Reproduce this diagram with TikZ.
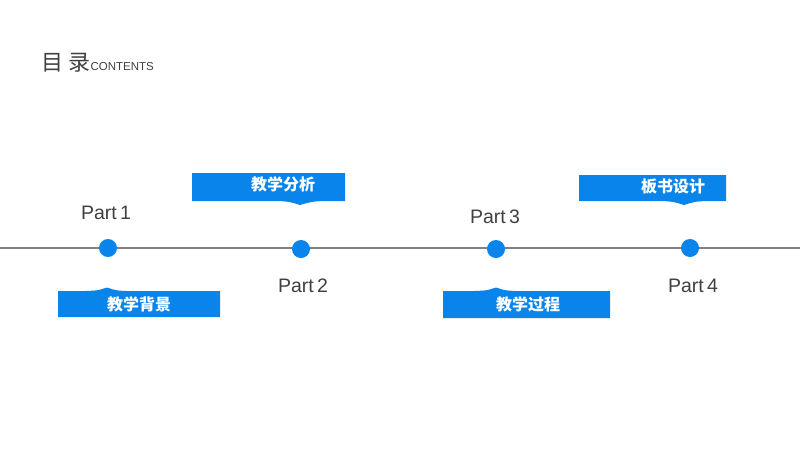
\documentclass[tikz,border=0pt]{standalone}
\usepackage{fontspec}
\setmainfont{Liberation Sans}
\newfontfamily\cjk{Noto Sans CJK SC}
\definecolor{tlblue}{RGB}{8,132,234}
\definecolor{tlgray}{RGB}{128,128,128}
\definecolor{txtgray}{RGB}{64,64,64}
\begin{document}
\begin{tikzpicture}[x=1pt,y=-1pt,
  dot/.style={circle,fill=tlblue,inner sep=0pt,minimum size=18pt},
  partlbl/.style={font=\fontsize{19.5}{19.5}\selectfont,text=txtgray,inner sep=0pt},
  boxlbl/.style={font=\cjk\bfseries\fontsize{16}{16}\selectfont,text=white,inner sep=0pt},
  boxfill/.style={fill=tlblue,draw=none}]
\useasboundingbox[fill=white] (0,0) rectangle (800,450);
% title
\node[anchor=base west,inner sep=0pt,text=txtgray,font=\cjk\fontsize{22}{22}\selectfont] (title) at (41,70) {目 录};
\node[anchor=base west,inner sep=0pt,text=txtgray,font=\fontsize{11.5}{11.5}\selectfont] (contents) at (title.base east) {CONTENTS};
% timeline
\coordinate (L) at (0,248);
\coordinate (R) at (800,248);
\draw[tlgray,line width=2pt] (L) -- (R);
\node[dot] (d1) at (108,248) {};
\node[dot] (d2) at (301,249) {};
\node[dot] (d3) at (496,249) {};
\node[dot] (d4) at (690,248) {};
% part labels
\node[partlbl] (p1) at (106,213) {Part\,1};
\node[partlbl] (p2) at (303,286) {Part\,2};
\node[partlbl] (p3) at (495,217) {Part\,3};
\node[partlbl] (p4) at (693,286) {Part\,4};
% box 1 (below, bump on top)
\fill[boxfill] (58,291) -- (85,291) .. controls (98,290.5) .. (107,287.5) .. controls (116,290.5) .. (126,291) -- (220,291) -- (220,317) -- (58,317) -- cycle;
\node[boxlbl] (b1) at (139,304) {教学背景};
% box 2 (above, bump below)
\fill[boxfill] (192,173) -- (345,173) -- (345,201) -- (325,201) .. controls (312,201.5) .. (300,205) .. controls (289,201.5) .. (277,201) -- (192,201) -- cycle;
\node[boxlbl] (b2) at (283,184) {教学分析};
% box 3
\fill[boxfill] (443,291) -- (474,291) .. controls (487,290.5) .. (496,287.5) .. controls (505,290.5) .. (516,291) -- (610,291) -- (610,318) -- (443,318) -- cycle;
\node[boxlbl] (b3) at (528,304) {教学过程};
% box 4
\fill[boxfill] (579,175) -- (726,175) -- (726,201) -- (708,201) .. controls (695,201.5) .. (684,205) .. controls (673,201.5) .. (661,201) -- (579,201) -- cycle;
\node[boxlbl] (b4) at (673,186) {板书设计};
\end{tikzpicture}
\end{document}
